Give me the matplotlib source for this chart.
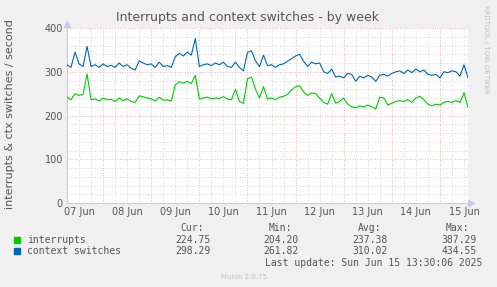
import matplotlib
matplotlib.use("Agg")
import matplotlib.pyplot as plt
import numpy as np

# ---- data (hours since 07 Jun 00:00, 2h steps starting 06:00) ----
start_hour = 6
step_hours = 2
context_switches = [
    316, 310, 345, 318, 312, 358, 312, 316, 310, 318,
    312, 315, 310, 320, 312, 316, 308, 304, 325, 320,
    316, 318, 310, 322, 312, 314, 310, 334, 342, 336,
    345, 338, 376, 312, 316, 318, 314, 320, 316, 322,
    312, 310, 322, 310, 302, 344, 348, 325, 312, 338,
    314, 316, 310, 316, 318, 324, 330, 336, 340, 324,
    312, 322, 318, 320, 300, 296, 306, 288, 290, 286,
    296, 294, 278, 290, 286, 292, 288, 278, 292, 294,
    290, 296, 300, 302, 296, 304, 298, 306, 300, 304,
    294, 292, 294, 286, 300, 298, 302, 300, 290, 316,
    286,
]
interrupts = [
    242, 236, 250, 246, 248, 295, 236, 238, 233, 240,
    236, 237, 232, 240, 234, 238, 232, 230, 245, 243,
    240, 238, 233, 242, 235, 236, 233, 270, 277, 274,
    278, 273, 292, 238, 240, 242, 238, 240, 239, 243,
    238, 236, 260, 232, 228, 284, 288, 260, 240, 266,
    238, 240, 236, 242, 244, 248, 258, 266, 268, 254,
    246, 252, 250, 240, 230, 226, 250, 228, 232, 240,
    226, 220, 218, 222, 220, 224, 220, 215, 242, 240,
    224, 228, 232, 234, 232, 236, 230, 240, 244, 236,
    226, 222, 226, 224, 230, 232, 230, 234, 230, 252,
    218,
]
day_labels = ["07 Jun", "08 Jun", "09 Jun", "10 Jun", "11 Jun",
              "12 Jun", "13 Jun", "14 Jun", "15 Jun"]
y_ticks = [0, 100, 200, 300, 400]
series_names = ["interrupts", "context switches"]
cur_vals = ["224.75", "298.29"]
min_vals = ["204.20", "261.82"]
avg_vals = ["237.38", "310.02"]
max_vals = ["387.29", "434.55"]

hours = start_hour + step_hours * np.arange(len(interrupts))

BG = "#f0f0f0"
GREEN = "#00cc00"
BLUE = "#0066b3"
TXT = "#555555"

fig = plt.figure(figsize=(4.97, 2.87), dpi=100, facecolor=BG)
ax = fig.add_axes([67 / 497, 1 - 203 / 287, 401 / 497, 175 / 287])
ax.set_facecolor("white")

ax.set_xlim(6, 206)
ax.set_ylim(0, 400)

# grid
for h in np.arange(6, 207, 6):
    if h % 24 == 0:
        continue
    ax.axvline(h, color="#cfcfcf", lw=0.6, ls=(0, (1, 2)), zorder=1)
for v in np.arange(20, 400, 20):
    if v % 100 == 0:
        continue
    ax.axhline(v, color="#cfcfcf", lw=0.6, ls=(0, (1, 2)), zorder=1)
for h in np.arange(24, 207, 24):
    ax.axvline(h, color="#e8a0a0", lw=0.6, ls=(0, (1, 2)), zorder=1.5)
for v in y_ticks[1:]:
    ax.axhline(v, color="#e8a0a0", lw=0.6, ls=(0, (1, 2)), zorder=1.5)

ax.plot(hours, interrupts, color=GREEN, lw=0.8, zorder=3)
ax.plot(hours, context_switches, color=BLUE, lw=0.8, zorder=3)

for s in ["top", "right"]:
    ax.spines[s].set_visible(False)
for s in ["left", "bottom"]:
    ax.spines[s].set_color("#c8c8f0")
    ax.spines[s].set_linewidth(0.8)
ax.plot([0], [1.025], marker="^", color="#c8c8f0", markersize=4,
        transform=ax.transAxes, clip_on=False)
ax.plot([1.008], [0], marker=">", color="#c8c8f0", markersize=4,
        transform=ax.transAxes, clip_on=False)

ax.set_xticks([12 + 24 * k for k in range(len(day_labels))])
ax.set_xticklabels(day_labels)
ax.set_yticks(y_ticks)
ax.tick_params(length=0, labelsize=7, colors=TXT, pad=3)

def ty(y):
    return 1 - y / 287

fig.text(10 / 497, ty(114), "interrupts & ctx switches / second", rotation=90,
         ha="center", va="center", fontsize=8, color=TXT)
fig.text(247 / 497, ty(18), "Interrupts and context switches - by week",
         ha="center", va="center", fontsize=9, color=TXT)
fig.text(486 / 497, ty(5), "RRDTOOL / TOBI OETIKER", rotation=270,
         ha="center", va="top", fontsize=5, color="#c0c0c0")

mono = "DejaVu Sans Mono"
fs = 7

# headers
for x, t in [(204, "Cur:"), (292, "Min:"), (381, "Avg:"), (469, "Max:")]:
    fig.text(x / 497, ty(228), t, ha="right", va="center", fontsize=fs,
             family=mono, color=TXT)
rows_y = [240, 251]
colors = [GREEN, BLUE]
for i in range(2):
    y = rows_y[i]
    fig.patches.append(plt.Rectangle((14 / 497, ty(y) - 2.8 / 287), 5.5 / 497, 5.5 / 287,
                                     transform=fig.transFigure, color=colors[i]))
    fig.text(27 / 497, ty(y), series_names[i], ha="left", va="center",
             fontsize=fs, family=mono, color=TXT)
    for x, vals in [(211, cur_vals), (299, min_vals), (388, avg_vals), (477, max_vals)]:
        fig.text(x / 497, ty(y), vals[i], ha="right", va="center",
                 fontsize=fs, family=mono, color=TXT)
fig.text(482 / 497, ty(263), "Last update: Sun Jun 15 13:30:06 2025",
         ha="right", va="center", fontsize=fs, family=mono, color=TXT)
fig.text(244 / 497, ty(277), "Munin 2.0.75", ha="center", va="center",
         fontsize=5, color="#c0c0c0")

fig.savefig("out.png", dpi=100, facecolor=BG)
